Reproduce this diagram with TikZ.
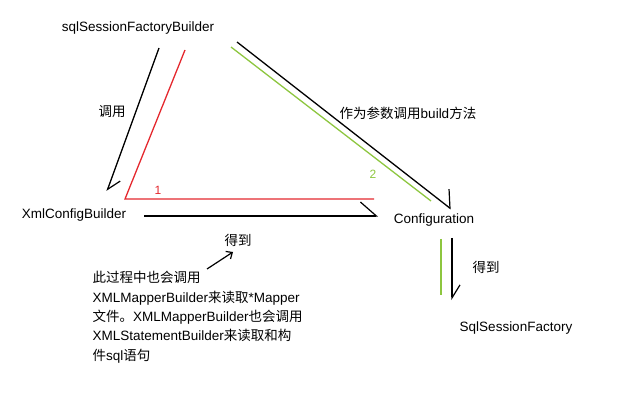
\documentclass[tikz,border=0pt]{standalone}
\usepackage{fontspec}
\setmainfont{Liberation Sans}
\newfontfamily\cjk{Noto Sans CJK SC}
\usepackage{tikz}
\usetikzlibrary{arrows.meta, positioning, calc}
\usepackage{xcolor}
\definecolor{redline}{RGB}{228,40,46}
\definecolor{greenline}{RGB}{141,198,63}
\newcommand{\zh}[1]{{\cjk #1}}

\tikzset{
    lbl/.style={inner sep=0pt, font=\fontsize{13.5}{19.3}\selectfont},
    barb/.style 2 args={-{Straight Barb[harpoon, length=#1, width=#2, line width=1.2pt]}},
    order/.style={line width=1.3pt},
}

\begin{document}
\begin{tikzpicture}[x=1pt, y=-1pt, line width=1.3pt]
    \useasboundingbox (0,0) rectangle (634,403);
    % Classes
    \node[lbl] (sfb) at (138,28) {sqlSessionFactoryBuilder};
    \node[lbl] (xcb) at (74,215) {XmlConfigBuilder};
    \node[lbl] (conf) at (434,220) {Configuration};
    \node[lbl] (ssf) at (516,328) {SqlSessionFactory};

    % Ends of the strokes
    \coordinate (a1s) at (159,48);
    \coordinate (a1e) at (107,191);
    \coordinate (a2s) at (144,216);
    \coordinate (a2e) at (378,216);
    \coordinate (a3s) at (237,42);
    \coordinate (a3e) at (451,209);
    \coordinate (a4s) at (452,238);
    \coordinate (a4e) at (452,300);
    \coordinate (a5s) at (207,269);
    \coordinate (a5e) at (233,252);
    \coordinate (r1) at (185,50);
    \coordinate (r2) at (125,199);
    \coordinate (r3) at (374,199);
    \coordinate (g1) at (231,47);
    \coordinate (g2) at (431,201);
    \coordinate (g3) at (441,239);
    \coordinate (g4) at (441,295);

    % Calls
    \draw[barb={12pt}{18pt}] (a1s) -- (a1e);
    \draw[barb={16pt}{28pt}] (a2s) -- (a2e);
    \draw[barb={12.5pt}{29pt}] (a3s) -- (a3e);
    \draw[barb={13pt}{16pt}] (a4s) -- (a4e);
    \draw[line width=1.2pt, -{Straight Barb[length=5pt, width=9pt]}] (a5s) -- (a5e);

    % Order
    \draw[redline, order] (r1) -- (r2) -- (r3);
    \draw[greenline, order] (g1) -- (g2);
    \draw[greenline, order] (g3) -- (g4);
    \node[lbl, redline, font=\fontsize{12}{14}\selectfont] (n1) at (158,190) {1};
    \node[lbl, greenline, font=\fontsize{12}{14}\selectfont] (n2) at (373,174) {2};

    % Labels
    \node[lbl] (call) at (112,112) {\zh{调用}};
    \node[lbl] (param) at (408,113) {\zh{作为参数调用}build\zh{方法}};
    \node[lbl] (get1) at (486,267) {\zh{得到}};
    \node[lbl] (get2) at (238,240) {\zh{得到}};
    \node[lbl, align=left, anchor=north west] (note) at (92,271)
        {\zh{此过程中也会调用}\\
         XMLMapperBuilder\zh{来读取}*Mapper\\
         \zh{文件。}XMLMapperBuilder\zh{也会调用}\\
         XMLStatementBuilder\zh{来读取和构}\\
         \zh{件}sql\zh{语句}};
\end{tikzpicture}
\end{document}
